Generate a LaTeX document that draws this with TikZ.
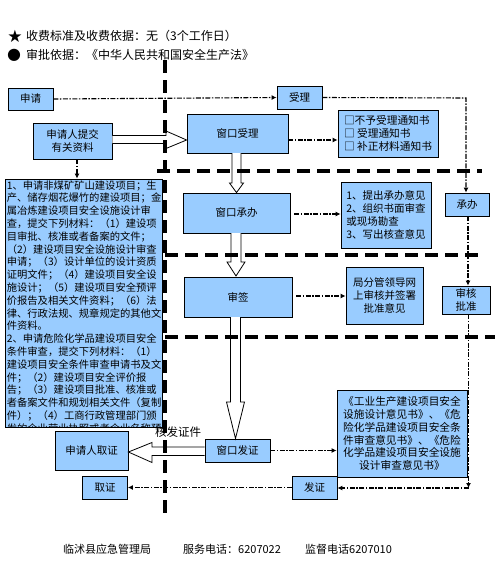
\documentclass[tikz,border=0pt]{standalone}
\usepackage{fontspec}
\newfontfamily\cjk{Noto Sans CJK SC}
\newfontfamily\dv{DejaVu Sans}
\usetikzlibrary{arrows.meta,calc}
\definecolor{boxblue}{HTML}{99CCFF}
\begin{document}
\begin{tikzpicture}[x=1pt,y=-1pt,
  box/.style={draw=black,line width=0.8pt,fill=boxblue,inner sep=0pt,
    font=\cjk\fontsize{10.5}{13}\selectfont,align=center},
  dd/.style={line width=1.1pt,dash pattern=on 5pt off 1.5pt on 1.5pt off 1.5pt},
  ddarrow/.style={dd,-{Latex[length=5pt,width=5pt]}},
  sep/.style={line width=3.5pt,dash pattern=on 13pt off 7pt},
  hollow/.style={draw=black,line width=0.8pt,fill=white},
  plain/.style={inner sep=0pt,font=\cjk\fontsize{12}{12}\selectfont}]
\useasboundingbox (0,0) rectangle (495,570);

% header
\node[inner sep=0pt,font=\dv\fontsize{17}{17}\selectfont] (star) at (15,36) {★};
\node[plain,anchor=west] (h1) at (26,36) {收费标准及收费依据：无（3个工作日）};
\node[inner sep=0pt,font=\dv\fontsize{16}{16}\selectfont] (dot) at (14,55) {●};
\node[plain,anchor=west] (h2) at (26,55) {审批依据：《中华人民共和国安全生产法》};

% boxes
\node[box,minimum width=45pt,minimum height=22pt] (sq) at (30.5,99) {申请};
\node[box,minimum width=45pt,minimum height=23pt] (sl) at (299.5,97.5) {受理};
\node[box,minimum width=79pt,minimum height=36pt] (tj) at (72.5,141) {申请人提交\\有关资料};
\node[box,minimum width=101pt,minimum height=39pt] (cksl) at (237.5,133.5) {窗口受理};
\node[box,minimum width=100pt,minimum height=47pt,align=left,
      font=\cjk\fontsize{10.7}{13}\selectfont] (tz) at (388,133.5)
      {□不予受理通知书\\□ 受理通知书\\□ 补正材料通知书};
\node[box,minimum width=107pt,minimum height=40pt] (ckcb) at (236.5,213) {窗口承办};
\node[box,minimum width=90pt,minimum height=66pt,align=left,
      font=\cjk\fontsize{10.5}{13.3}\selectfont] (cbyj) at (386,215)
      {1、提出承办意见\\2、组织书面审查\\或现场勘查\\3、写出核查意见};
\node[box,minimum width=44pt,minimum height=23pt] (cb) at (467,204.5) {承办};
\node[box,minimum width=108pt,minimum height=40pt] (sqian) at (238,297) {审签};
\node[box,minimum width=77pt,minimum height=57pt,
      font=\cjk\fontsize{10.5}{13}\selectfont] (ld) at (384.5,295.5)
      {局分管领导网\\上审核并签署\\批准意见};
\node[box,minimum width=48pt,minimum height=28pt,
      font=\cjk\fontsize{10.5}{12.5}\selectfont] (shpz) at (466,300) {审核\\批准};
\node[box,minimum width=65pt,minimum height=23pt] (ckfz) at (237.5,450.5) {窗口发证};
\node[box,minimum width=73pt,minimum height=39pt] (qz1) at (91.5,450.5) {申请人取证};
\node[box,minimum width=130pt,minimum height=87pt,
      font=\cjk\fontsize{10.7}{12.9}\selectfont] (yj) at (402,433.5)
      {《工业生产建设项目安全\\设施设计意见书》、《危\\险化学品建设项目安全条\\件审查意见书》、《危险\\化学品建设项目安全设施\\设计审查意见书》};
\node[box,minimum width=45pt,minimum height=23pt] (qz) at (105,487.5) {取证};
\node[box,minimum width=45pt,minimum height=23pt] (fz) at (314.5,487.5) {发证};

% left material box
\node[box,minimum width=157pt,minimum height=248pt] (cl) at (83.5,303) {};
\begin{scope}
\clip (cl.north west) rectangle (cl.south east);
\node[anchor=north west,inner sep=0pt,align=left,
      font=\cjk\fontsize{10.3}{12.8}\selectfont] (cltext) at ($(cl.north west)+(2,1.5)$)
{1、申请非煤矿矿山建设项目；生\\
产、储存烟花爆竹的建设项目；金\\
属冶炼建设项目安全设施设计审\\
查，提交下列材料：（1）建设项\\
目审批、核准或者备案的文件；\\
（2）建设项目安全设施设计审查\\
申请；（3）设计单位的设计资质\\
证明文件；（4）建设项目安全设\\
施设计；（5）建设项目安全预评\\
价报告及相关文件资料；（6）法\\
律、行政法规、规章规定的其他文\\
件资料。\\
2、申请危险化学品建设项目安全\\
条件审查，提交下列材料：（1）\\
建设项目安全条件审查申请书及文\\
件；（2）建设项目安全评价报\\
告；（3）建设项目批准、核准或\\
者备案文件和规划相关文件（复制\\
件）；（4）工商行政管理部门颁\\
发的企业营业执照或者企业名称预};
\end{scope}

% hollow arrows
\draw[hollow] ($(tj.east)+(0,-5.5)$) -- (166,135.5) -- (166,131) -- (cksl.west |- 0,140)
  -- (166,148.5) -- (166,143.5) -- ($(tj.east)+(0,2.5)$);
\draw[hollow] (232,153) -- (232,183) -- (229.5,183) -- (ckcb.north -| 236.5,0)
  -- (243.5,183) -- (241,183) -- (241,153);
\draw[hollow] (231,233) -- (231,262) -- (227,262) -- (236,276)
  -- (245,262) -- (241,262) -- (241,233);
\draw[hollow] (230.5,317) -- (230.5,402) -- (226.5,402) -- (ckfz.north -| 235.5,0)
  -- (244.5,402) -- (240.5,402) -- (240.5,317);
\draw[hollow] (ckfz.west |- 0,447) -- (152,447) -- (152,442.5) -- (qz1.east |- 0,452)
  -- (152,462.5) -- (152,455.5) -- (ckfz.west |- 0,455.5);
\node[plain,font=\cjk\fontsize{11.5}{11.5}\selectfont] (hf) at (178,432) {核发证件};

% dash-dot connectors
\draw[ddarrow] (sq.east) -- (sl.west);
\coordinate (r1) at (466,98);
\draw[ddarrow] (sl.east) -- (r1) -- (cb.north -| r1);
\draw[ddarrow] (cb.south -| 468,0) -- (shpz.north -| 468,0);
\coordinate (r2) at (468.5,488);
\draw[ddarrow] (shpz.south -| r2) -- (r2);
\draw[ddarrow] (r2) -- (fz.east |- r2);
\draw[ddarrow] (fz.west) -- (qz.east);
\draw[ddarrow] (cksl.east |- 0,140) -- (tz.west |- 0,140);
\draw[ddarrow] ($(ckcb.east)+(4,1)$) -- (cbyj.west |- 0,214);
\draw[ddarrow] ($(sqian.east)+(4,-1)$) -- (ld.west |- 0,296);
\draw[ddarrow] (ckfz.east) -- (yj.west |- ckfz.east);
\draw[ddarrow] (tj.south -| 77,0) -- (cl.north -| 77,0);

% thick dashed separators
\draw[sep] (165,60) -- (165,515);
\draw[sep] (157,171) -- (482,171);
\draw[sep] (165,255) -- (484,255);
\draw[sep] (165,337) -- (495,337);

% footer
\node[plain,anchor=west,font=\cjk\fontsize{11}{11}\selectfont] (f1) at (63,549) {临沭县应急管理局};
\node[plain,anchor=west,font=\cjk\fontsize{11}{11}\selectfont] (f2) at (183,549) {服务电话：6207022};
\node[plain,anchor=west,font=\cjk\fontsize{11}{11}\selectfont] (f3) at (305,549) {监督电话6207010};
\end{tikzpicture}
\end{document}
